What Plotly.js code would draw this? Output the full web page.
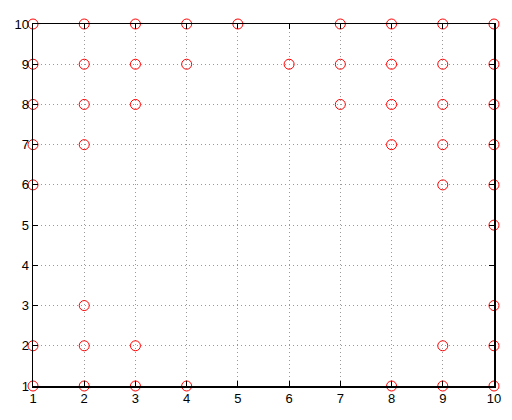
<!DOCTYPE html>
<html>
<head>
<meta charset="utf-8">
<script src="https://cdn.plot.ly/plotly-3.0.1.min.js"></script>
<style>html,body{margin:0;padding:0;background:#fff;}#plot{width:512px;height:420px;}</style>
</head>
<body>
<div id="plot"></div>
<script>
// x positions of points in each row (keyed by y value)
const rowY = [10, 9, 8, 7, 6, 5, 4, 3, 2, 1];
const row10 = [1, 2, 3, 4, 5, 7, 8, 9, 10];
const row9 = [1, 2, 3, 4, 6, 7, 8, 9, 10];
const row8 = [1, 2, 3, 7, 8, 9, 10];
const row7 = [1, 2, 8, 9, 10];
const row6 = [1, 9, 10];
const row5 = [10];
const row4 = [];
const row3 = [2, 10];
const row2 = [1, 2, 3, 9, 10];
const row1 = [1, 2, 3, 4, 8, 9, 10];
const tickVals = [1, 2, 3, 4, 5, 6, 7, 8, 9, 10];

const rows = [row10, row9, row8, row7, row6, row5, row4, row3, row2, row1];
const xs = [], ys = [];
rows.forEach((r, i) => r.forEach(x => { xs.push(x); ys.push(rowY[i]); }));

const axisCommon = {
  range: [1, 10],
  tickvals: tickVals,
  ticktext: tickVals.map(String),
  showline: true, mirror: 'ticks', linecolor: '#000', linewidth: 1.5,
  ticks: 'inside', ticklen: 5, tickcolor: '#000', tickwidth: 1,
  showgrid: true, gridcolor: '#999999', griddash: '1px,3px', gridwidth: 1,
  zeroline: false,
  tickfont: {family: 'Liberation Sans, Arial, sans-serif', size: 13, color: '#000'}
};

Plotly.newPlot('plot', [{
  x: xs, y: ys, type: 'scatter', mode: 'markers',
  marker: {symbol: 'circle-open', size: 10, color: '#ff0000', line: {width: 1, color: '#ff0000'}},
  cliponaxis: false, hoverinfo: 'x+y'
}], {
  width: 512, height: 420,
  margin: {l: 33, r: 18, t: 24, b: 34},
  paper_bgcolor: '#fff', plot_bgcolor: '#fff',
  showlegend: false,
  xaxis: Object.assign({}, axisCommon, {ticklabelstandoff: 0}),
  yaxis: Object.assign({}, axisCommon, {ticklabelstandoff: 0})
}, {displayModeBar: false, staticPlot: true});
</script>
</body>
</html>
